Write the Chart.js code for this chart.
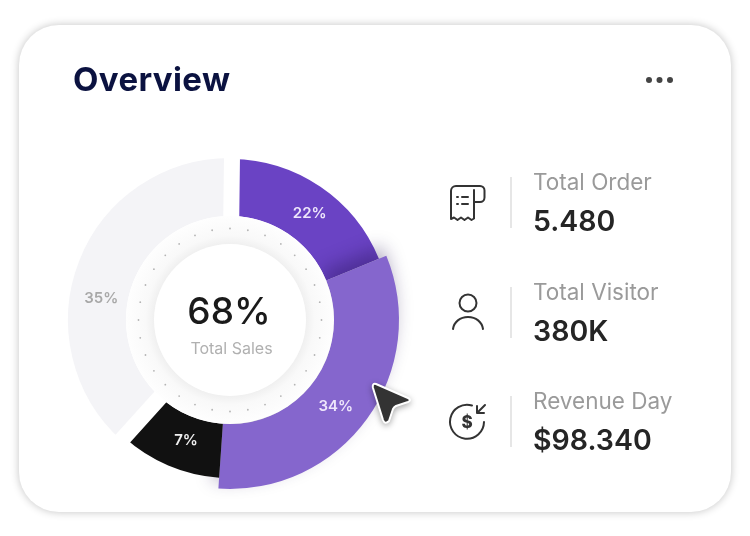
<!DOCTYPE html>
<html><head><meta charset="utf-8">
<script src="https://cdn.jsdelivr.net/npm/chart.js@4"></script>
<style>
html,body{margin:0;padding:0;background:#fff;width:750px;height:536px;overflow:hidden}
#wrap{position:absolute;left:0;top:0;width:750px;height:536px;filter:blur(.7px);font-family:Inter,sans-serif}
#card{position:absolute;left:19px;top:25px;width:712px;height:487px;border-radius:40px;background:#fff;box-shadow:0 0 9px rgba(0,0,0,.24)}
#cv{position:absolute;left:20px;top:110px;width:420px;height:420px}
.t{position:absolute;white-space:nowrap;line-height:1}
#title{left:73px;top:63px;font-size:33px;font-weight:700;color:#0b1240;letter-spacing:.4px}
#big{left:130px;width:198px;text-align:center;top:292px;font-size:37px;font-weight:500;color:#1a1a1a}
#sub{left:130px;width:203px;text-align:center;top:340px;font-size:16px;color:#b0b0b0}
.lab{font-size:22.500px;color:#9a9a9a;left:533px}
.val{font-size:28.500px;font-weight:600;color:#252525;left:533px}
.div{position:absolute;left:510px;width:1.5px;height:51px;background:#e6e6e6}
svg{position:absolute;left:0;top:0;overflow:visible}
</style></head><body>
<div id="wrap">
<div id="card"></div>
<div class="t" id="title"></div>
<canvas id="cv" width="420" height="420"></canvas>
<div class="t" id="big"></div>
<div class="t" id="sub"></div>
<div id="stats"></div>
<svg width="750" height="536" fill="none" stroke="#333" stroke-width="2" stroke-linecap="round" stroke-linejoin="round">
 <g fill="#444" stroke="none"><circle cx="649" cy="80" r="3"/><circle cx="659.5" cy="80" r="3"/><circle cx="670" cy="80" r="3"/></g>
 <path d="M475 186H456a5 5 0 0 0-5 5V219l3-1.500 3.500 2.500 3.500-2.500 3.500 2.500 3.500-2.500 3.500 2.500 2.500-1.500V190"/>
 <path d="M475 186h5a4.500 4.500 0 0 1 4.500 4.500v7a4.500 4.500 0 0 1-4.500 4.500h-6"/>
 <path d="M457 197h1M462 197h6M457 204h1M462 204h6" stroke-width="2"/>
 <circle cx="468" cy="303" r="8.500"/>
 <path d="M453 329c1-7 7-12 15-12s14 5 15 12"/>
 <path d="M472 405.500A17 17 0 1 0 484 422"/>
 <path d="M485 405l-8 8M477 406v7h7"/>
 <text x="467" y="428" text-anchor="middle" fill="#333" stroke="none" font-family="Inter" font-weight="800" font-size="17">$</text>
 <g style="filter:drop-shadow(0 2px 3px rgba(0,0,0,.35))">
  <path d="M376 384Q372 383 373 388L383 420Q385 425 389 421L393 409Q394 407 396 406L408 402Q412 400 408 398L376 384Z" fill="#333" stroke="#fff" stroke-width="2"/>
 </g>
</svg>
</div>
<script>
// Top-level chart content
const titleText = 'Overview';
const centerValue = '68%';
const centerLabel = 'Total Sales';
const categories = ['Segment A', 'Segment B', 'Segment C', 'Segment D'];
// Printed percentages, as they read in the picture (they total 98).
const printedLabels = ['22%', '34%', '7%', '35%'];
// The drawn slices are not proportional to the printed figures, so the arc
// shares below are measured from the picture's slice angles.
const sliceShares = [18.6, 32.3, 10.6, 38.5];
const statLabels = ['Total Order', 'Total Visitor', 'Revenue Day'];
const statValues = ['5.480', '380K', '$98.340'];

// Styles
const sliceColors = ['#6a43c4', '#8566cd', '#111111', '#f4f4f7'];
const labelColors = ['#eee6fb', '#eee6fb', '#f0f0f0', '#a8a8a8'];
const outerRadii = [161, 169, 158, 170];
const innerRadii = [104, 104, 104, 96];
const labelNudge = [[5, 4], [-2, 9], [8, -2], [-5, 27]];
const statTops = [[171, 207], [281, 317], [390, 426]];

document.getElementById('title').textContent = titleText;
document.getElementById('big').textContent = centerValue;
document.getElementById('sub').textContent = centerLabel;
const stats = document.getElementById('stats');
statLabels.forEach((s, i) => {
  stats.insertAdjacentHTML('beforeend',
    `<div class="t lab" style="top:${statTops[i][0]}px">${s}</div>` +
    `<div class="t val" style="top:${statTops[i][1]}px">${statValues[i]}</div>` +
    `<div class="div" style="top:${[177, 287, 396][i]}px"></div>`);
});

const ringShape = {
  id: 'ringShape',
  beforeDatasetsDraw(chart) {
    const arcs = chart.getDatasetMeta(0).data;
    arcs.forEach((a, i) => { a.outerRadius = outerRadii[i]; a.innerRadius = innerRadii[i]; });
    const a1 = arcs[1];
    if (!a1._wrapped) {
      const d = a1.draw.bind(a1);
      a1.draw = function (ctx, area) {
        ctx.save();
        ctx.shadowColor = 'rgba(35,15,80,.38)';
        ctx.shadowBlur = 18;
        ctx.shadowOffsetX = -5;
        ctx.shadowOffsetY = -9;
        d(ctx, area);
        ctx.restore();
      };
      a1._wrapped = true;
    }
  },
  afterDatasetsDraw(chart) {
    const ctx = chart.ctx;
    const arcs = chart.getDatasetMeta(0).data;
    const cx = arcs[0].x, cy = arcs[0].y;
    ctx.save();
    // hole rim
    const g = ctx.createRadialGradient(cx, cy, 76, cx, cy, 104);
    g.addColorStop(0, '#f0f0f0');
    g.addColorStop(.3, '#f9f9f9');
    g.addColorStop(1, '#fefefe');
    ctx.fillStyle = g;
    ctx.beginPath(); ctx.arc(cx, cy, 104, 0, Math.PI * 2); ctx.fill();
    ctx.fillStyle = '#b4b4b4';
    for (let i = 0; i < 32; i++) {
      const t = i / 32 * Math.PI * 2;
      ctx.beginPath();
      ctx.arc(cx + Math.cos(t) * 91.5, cy + Math.sin(t) * 91.5, .9, 0, Math.PI * 2);
      ctx.fill();
    }
    ctx.fillStyle = '#fff';
    ctx.beginPath(); ctx.arc(cx, cy, 76, 0, Math.PI * 2); ctx.fill();
    // slice labels
    ctx.textAlign = 'center';
    ctx.textBaseline = 'middle';
    ctx.font = '600 15px Inter';
    arcs.forEach((a, i) => {
      const mid = (a.startAngle + a.endAngle) / 2;
      const r = 133;
      ctx.fillStyle = labelColors[i];
      ctx.fillText(printedLabels[i], cx + Math.cos(mid) * r + labelNudge[i][0], cy + Math.sin(mid) * r + labelNudge[i][1]);
    });
    ctx.restore();
  }
};

new Chart(document.getElementById('cv'), {
  type: 'doughnut',
  data: {
    labels: categories,
    datasets: [{
      data: sliceShares,
      backgroundColor: sliceColors,
      borderColor: '#ffffff',
      borderWidth: [0, 0, 0, 16],
      hoverOffset: 0
    }]
  },
  options: {
    responsive: false,
    animation: false,
    devicePixelRatio: 1,
    rotation: 0.7,
    radius: 170,
    cutout: 104,
    plugins: { legend: { display: false }, tooltip: { enabled: false } },
    events: []
  },
  plugins: [ringShape]
});
</script>
</body></html>
